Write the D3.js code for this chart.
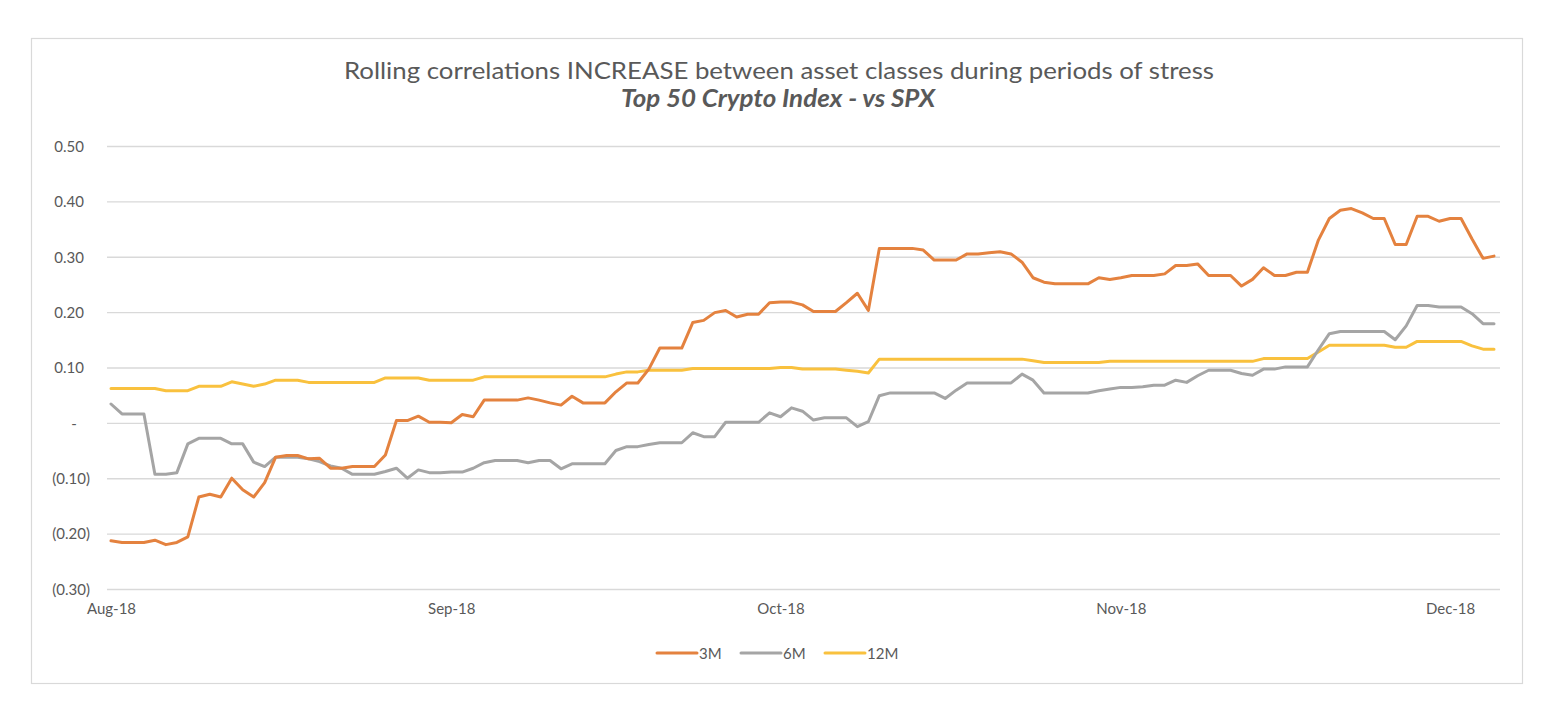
<!DOCTYPE html>
<html>
<head>
<meta charset="utf-8">
<script src="https://cdn.jsdelivr.net/npm/d3@7"></script>
<style>
  body { margin: 0; background: #fff; }
  text { font-family: Lato, "Open Sans", sans-serif; fill: #595959; }
</style>
</head>
<body>
<div id="chart"></div>
<script>
// daily rolling correlations, 1 Aug 2018 to 5 Dec 2018
var startDate = new Date(2018, 7, 1);

var series3M = [
  -0.212, -0.215, -0.215, -0.215, -0.211, -0.219, -0.215, -0.205, -0.133, -0.128,
  -0.133, -0.099, -0.120, -0.133, -0.107, -0.061, -0.058, -0.058, -0.064, -0.063,
  -0.081, -0.081, -0.078, -0.078, -0.078, -0.057, 0.005, 0.005, 0.013, 0.002,
  0.002, 0.001, 0.016, 0.012, 0.042, 0.042, 0.042, 0.042, 0.046, 0.042,
  0.037, 0.033, 0.049, 0.037, 0.037, 0.037, 0.057, 0.073, 0.073, 0.098,
  0.136, 0.136, 0.136, 0.182, 0.186, 0.200, 0.204, 0.192, 0.197, 0.197,
  0.218, 0.219, 0.219, 0.214, 0.202, 0.202, 0.202, 0.218, 0.235, 0.204,
  0.316, 0.316, 0.316, 0.316, 0.313, 0.295, 0.295, 0.295, 0.306, 0.306,
  0.308, 0.310, 0.306, 0.291, 0.263, 0.255, 0.252, 0.252, 0.252, 0.252,
  0.263, 0.260, 0.263, 0.267, 0.267, 0.267, 0.270, 0.285, 0.285, 0.288,
  0.267, 0.267, 0.267, 0.248, 0.260, 0.281, 0.267, 0.267, 0.273, 0.273,
  0.331, 0.370, 0.385, 0.388, 0.380, 0.370, 0.370, 0.323, 0.323, 0.374,
  0.374, 0.365, 0.370, 0.370, 0.333, 0.298, 0.302
];

var series6M = [
  0.035, 0.017, 0.017, 0.017, -0.092, -0.092, -0.089, -0.037, -0.027, -0.027,
  -0.027, -0.037, -0.037, -0.070, -0.078, -0.061, -0.061, -0.061, -0.064, -0.069,
  -0.077, -0.081, -0.092, -0.092, -0.092, -0.087, -0.081, -0.099, -0.084, -0.089,
  -0.089, -0.088, -0.088, -0.081, -0.071, -0.067, -0.067, -0.067, -0.071, -0.067,
  -0.067, -0.082, -0.073, -0.073, -0.073, -0.073, -0.049, -0.042, -0.042, -0.038,
  -0.035, -0.035, -0.035, -0.017, -0.024, -0.024, 0.002, 0.002, 0.002, 0.002,
  0.019, 0.012, 0.028, 0.022, 0.006, 0.010, 0.010, 0.010, -0.006, 0.003,
  0.050, 0.055, 0.055, 0.055, 0.055, 0.055, 0.045, 0.060, 0.073, 0.073,
  0.073, 0.073, 0.073, 0.089, 0.078, 0.055, 0.055, 0.055, 0.055, 0.055,
  0.059, 0.062, 0.065, 0.065, 0.066, 0.069, 0.069, 0.078, 0.074, 0.086,
  0.096, 0.096, 0.096, 0.090, 0.087, 0.098, 0.098, 0.102, 0.102, 0.102,
  0.133, 0.162, 0.166, 0.166, 0.166, 0.166, 0.166, 0.151, 0.176, 0.213,
  0.213, 0.210, 0.210, 0.210, 0.198, 0.180, 0.180
];

var series12M = [
  0.063, 0.063, 0.063, 0.063, 0.063, 0.059, 0.059, 0.059, 0.067, 0.067,
  0.067, 0.075, 0.071, 0.067, 0.071, 0.078, 0.078, 0.078, 0.074, 0.074,
  0.074, 0.074, 0.074, 0.074, 0.074, 0.082, 0.082, 0.082, 0.082, 0.078,
  0.078, 0.078, 0.078, 0.078, 0.084, 0.084, 0.084, 0.084, 0.084, 0.084,
  0.084, 0.084, 0.084, 0.084, 0.084, 0.084, 0.089, 0.093, 0.093, 0.096,
  0.096, 0.096, 0.096, 0.099, 0.099, 0.099, 0.099, 0.099, 0.099, 0.099,
  0.099, 0.101, 0.101, 0.098, 0.098, 0.098, 0.098, 0.096, 0.094, 0.091,
  0.116, 0.116, 0.116, 0.116, 0.116, 0.116, 0.116, 0.116, 0.116, 0.116,
  0.116, 0.116, 0.116, 0.116, 0.113, 0.110, 0.110, 0.110, 0.110, 0.110,
  0.110, 0.112, 0.112, 0.112, 0.112, 0.112, 0.112, 0.112, 0.112, 0.112,
  0.112, 0.112, 0.112, 0.112, 0.112, 0.117, 0.117, 0.117, 0.117, 0.117,
  0.129, 0.141, 0.141, 0.141, 0.141, 0.141, 0.141, 0.1375, 0.1375, 0.148,
  0.148, 0.148, 0.148, 0.148, 0.140, 0.134, 0.134
];

var seriesNames = ["3M", "6M", "12M"];
var seriesColors = ["#E4823F", "#A5A5A5", "#F9C13E"];
var yTicks = [-0.3, -0.2, -0.1, 0, 0.1, 0.2, 0.3, 0.4, 0.5];

var titleText = "Rolling correlations INCREASE between asset classes during periods of stress";
var subtitleText = "Top 50 Crypto Index - vs SPX";

var svgWidth = 1560, svgHeight = 712;

var svg = d3.select("#chart")
  .append("svg")
  .attr("width", svgWidth)
  .attr("height", svgHeight);

// chart border
svg.append("rect")
  .attr("x", 31.5).attr("y", 38.5)
  .attr("width", 1491).attr("height", 645)
  .attr("fill", "#fff")
  .attr("stroke", "#d9d9d9")
  .attr("stroke-width", 1.2);

var dates = series3M.map(function(d, i) { return d3.timeDay.offset(startDate, i); });

var x = d3.scaleTime()
  .domain([dates[0], dates[dates.length - 1]])
  .range([111, 1494]);

var y = d3.scaleLinear()
  .domain([-0.3, 0.5])
  .range([589.5, 146.5]);

// gridlines
svg.append("g")
  .selectAll("line")
  .data(yTicks)
  .enter()
  .append("line")
  .attr("x1", 107).attr("x2", 1500)
  .attr("y1", function(d) { return y(d); })
  .attr("y2", function(d) { return y(d); })
  .attr("stroke", "#d9d9d9")
  .attr("stroke-width", 1.3);

// y axis labels (accounting style)
function fmtY(d) {
  if (Math.abs(d) < 1e-9) return "-";
  if (d < 0) return "(" + d3.format(".2f")(-d) + ")";
  return d3.format(".2f")(d);
}

var yAxis = svg.append("g")
  .attr("transform", "translate(90,0)")
  .call(d3.axisLeft(y).tickValues(yTicks).tickSize(0).tickPadding(0).tickFormat(fmtY));
yAxis.select(".domain").remove();
yAxis.selectAll("text")
  .style("font-size", "15px")
  .style("font-family", "Lato, sans-serif")
  .attr("fill", "#595959")
  .attr("x", function(d) { return Math.abs(d) < 1e-9 ? -16 : (d < 0 ? 0 : -6); })
  .attr("text-anchor", function(d) { return Math.abs(d) < 1e-9 ? "middle" : "end"; });

// x axis labels
var xAxis = svg.append("g")
  .attr("transform", "translate(0,603)")
  .call(d3.axisBottom(x).ticks(d3.timeMonth.every(1)).tickSize(0).tickPadding(0)
    .tickFormat(d3.timeFormat("%b-%y")));
xAxis.select(".domain").remove();
xAxis.selectAll("text")
  .style("font-size", "15px")
  .style("font-family", "Lato, sans-serif")
  .attr("fill", "#595959");

// lines
var allSeries = [series3M, series6M, series12M];
var line = d3.line()
  .x(function(d, i) { return x(dates[i]); })
  .y(function(d) { return y(d); });

// draw 12M first so 3M sits on top like the original
[2, 1, 0].forEach(function(k) {
  svg.append("path")
    .datum(allSeries[k])
    .attr("fill", "none")
    .attr("stroke", seriesColors[k])
    .attr("stroke-width", 3)
    .attr("stroke-linejoin", "round")
    .attr("stroke-linecap", "round")
    .attr("d", line);
});

// titles
svg.append("text")
  .attr("x", 779).attr("y", 79)
  .attr("text-anchor", "middle")
  .attr("textLength", 870)
  .attr("lengthAdjust", "spacingAndGlyphs")
  .style("font-size", "24px")
  .text(titleText);

svg.append("text")
  .attr("x", 778).attr("y", 107)
  .attr("text-anchor", "middle")
  .attr("textLength", 314)
  .attr("lengthAdjust", "spacingAndGlyphs")
  .style("font-size", "24px")
  .style("font-weight", "bold")
  .style("font-style", "italic")
  .text(subtitleText);

// legend
var legendX = [657, 741, 825];
var legend = svg.append("g");
seriesNames.forEach(function(name, k) {
  legend.append("line")
    .attr("x1", legendX[k]).attr("x2", legendX[k] + 40)
    .attr("y1", 653).attr("y2", 653)
    .attr("stroke", seriesColors[k])
    .attr("stroke-width", 3)
    .attr("stroke-linecap", "round");
  legend.append("text")
    .attr("x", legendX[k] + 42).attr("y", 658.5)
    .style("font-size", "15px")
    .text(name);
});
</script>
</body>
</html>
